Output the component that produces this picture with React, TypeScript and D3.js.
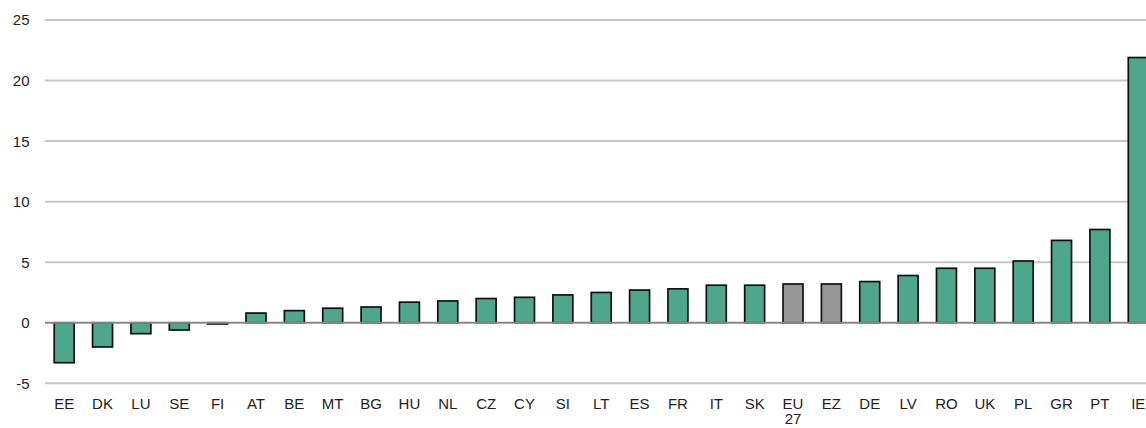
import React from "react";
import * as d3 from "d3";

const categories = ["EE", "DK", "LU", "SE", "FI", "AT", "BE", "MT", "BG", "HU", "NL", "CZ", "CY", "SI", "LT", "ES", "FR", "IT", "SK", "EU\n27", "EZ", "DE", "LV", "RO", "UK", "PL", "GR", "PT", "IE"];
const values = [-3.3, -2.0, -0.9, -0.6, -0.1, 0.8, 1.0, 1.2, 1.3, 1.7, 1.8, 2.0, 2.1, 2.3, 2.5, 2.7, 2.8, 3.1, 3.1, 3.2, 3.2, 3.4, 3.9, 4.5, 4.5, 5.1, 6.8, 7.7, 21.9];
const aggregates = ["EU\n27", "EZ"];
const yTicks = [-5, 0, 5, 10, 15, 20, 25];

const W = 1146;
const H = 428;

export default function App() {
  const x = d3
    .scaleBand<string>()
    .domain(categories)
    .range([45, 45 + categories.length * 38.36])
    .paddingInner(0.48)
    .paddingOuter(0.24);
  const y = d3.scaleLinear().domain([-5, 25]).range([383.3, 20]);

  return (
    <svg
      width={W}
      height={H}
      style={{ position: "absolute", left: 0, top: 0, overflow: "hidden", background: "#fff" }}
      fontFamily="'Liberation Sans', Arial, sans-serif"
    >
      {/* horizontal gridlines and value labels */}
      {yTicks.map((t) => (
        <g key={t}>
          {t !== 0 && (
            <line x1={45} x2={W} y1={y(t)} y2={y(t)} stroke="#c6c6c6" strokeWidth={2} />
          )}
          <text x={29.5} y={y(t)} dy="0.36em" textAnchor="end" fontSize={15} fill="#222">
            {t}
          </text>
        </g>
      ))}
      {/* bars */}
      {categories.map((c, i) => {
        const v = values[i];
        const y0 = y(0);
        const y1 = y(v);
        return (
          <rect
            key={c}
            x={x(c)!}
            y={Math.min(y0, y1)}
            width={x.bandwidth()}
            height={Math.abs(y1 - y0)}
            fill={aggregates.includes(c) ? "#979797" : "#4ea78a"}
            stroke="#111"
            strokeWidth={1.7}
          />
        );
      })}
      {/* zero baseline */}
      <line x1={45} x2={W} y1={y(0)} y2={y(0)} stroke="#888" strokeWidth={2.2} />
      {/* category labels */}
      {categories.map((c) => {
        const lines = c.split("\n");
        const cx = x(c)! + x.bandwidth() / 2;
        return (
          <text key={c} x={cx} y={409} textAnchor="middle" fontSize={15} fill="#222">
            {lines.map((l, k) => (
              <tspan key={k} x={cx} dy={k === 0 ? 0 : 15}>
                {l}
              </tspan>
            ))}
          </text>
        );
      })}
    </svg>
  );
}
